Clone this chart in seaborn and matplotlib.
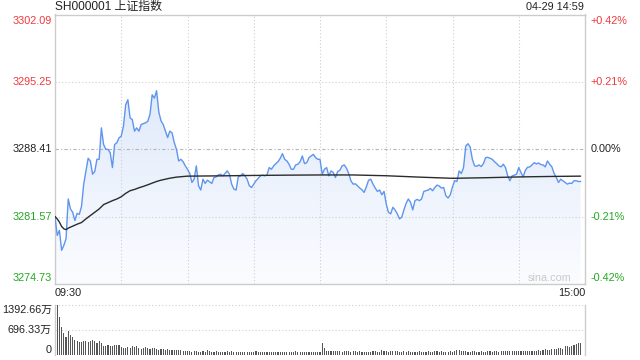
import numpy as np
import matplotlib
matplotlib.use("Agg")
import matplotlib.pyplot as plt
import seaborn as sns
from matplotlib.colors import LinearSegmentedColormap

title = "SH000001 上证指数"
stamp = "04-29 14:59"
prev_close = 3288.41
y_ticks = [3274.73, 3281.57, 3288.41, 3295.25, 3302.09]
pct_labels = ["-0.42%", "-0.21%", "0.00%", "+0.21%", "+0.42%"]
vol_ticks = [0, 696.33, 1392.66]
vol_labels = ["0", "696.33万", "1392.66万"]
x_labels = ["09:30", "15:00"]

price = [
    3281.58, 3279.66, 3280.17, 3278.15, 3278.65, 3279.33, 3283.36, 3282.35, 3282.01, 3281.17,
    3281.90, 3281.80, 3282.60, 3284.87, 3286.21, 3287.49, 3287.22, 3285.88, 3286.15, 3287.39,
    3287.39, 3290.58, 3288.90, 3288.40, 3288.40, 3288.06, 3286.55, 3288.90, 3289.07, 3289.57,
    3289.74, 3290.75, 3292.93, 3293.44, 3291.59, 3291.42, 3290.25, 3290.58, 3290.25, 3290.92,
    3291.00, 3291.09, 3291.25, 3291.93, 3293.94, 3293.60, 3294.35, 3292.20, 3291.30, 3290.92,
    3290.25, 3289.60, 3290.25, 3290.08, 3289.10, 3288.40, 3287.22, 3287.39, 3287.15, 3286.72,
    3286.38, 3285.95, 3285.04, 3285.37, 3286.72, 3284.70, 3284.27, 3285.37, 3284.94, 3285.27,
    3285.10, 3284.94, 3285.54, 3285.61, 3285.81, 3285.88, 3285.71, 3285.95, 3286.22, 3285.88,
    3284.87, 3284.37, 3284.27, 3285.61, 3285.71, 3285.95, 3285.71, 3285.37, 3284.70, 3284.53,
    3284.87, 3285.21, 3285.44, 3285.71, 3285.78, 3285.71, 3285.81, 3286.55, 3286.38, 3286.72,
    3286.95, 3287.15, 3287.49, 3287.96, 3287.39, 3287.22, 3286.89, 3286.38, 3286.38, 3286.82,
    3286.89, 3287.15, 3287.73, 3286.95, 3287.05, 3287.56, 3287.73, 3287.89, 3287.56, 3287.39,
    3287.39, 3285.88, 3286.38, 3286.55, 3285.71, 3286.21, 3286.05, 3285.54, 3286.15, 3286.28,
    3286.72, 3286.82, 3286.48, 3285.95, 3285.21, 3284.87, 3284.90, 3284.70, 3284.47, 3284.30,
    3284.03, 3284.60, 3285.27, 3285.37, 3284.87, 3284.47, 3284.13, 3284.27, 3283.79, 3284.13,
    3282.85, 3282.01, 3281.85, 3282.52, 3282.25, 3281.85, 3281.34, 3281.51, 3282.25, 3282.92,
    3283.36, 3283.02, 3282.25, 3283.19, 3283.32, 3283.19, 3283.36, 3284.13, 3284.20, 3284.27,
    3284.43, 3284.20, 3284.53, 3284.77, 3284.67, 3284.47, 3284.53, 3283.69, 3283.46, 3283.79,
    3284.60, 3285.21, 3285.14, 3286.21, 3285.95, 3286.55, 3288.73, 3288.97, 3288.63, 3287.39,
    3286.72, 3286.68, 3286.82, 3286.65, 3286.95, 3287.56, 3287.59, 3287.49, 3287.39, 3287.15,
    3286.95, 3286.72, 3286.62, 3286.89, 3286.55, 3285.71, 3285.21, 3285.71, 3285.78, 3285.88,
    3286.55, 3286.05, 3285.61, 3286.28, 3286.58, 3286.62, 3286.82, 3287.05, 3286.92, 3287.02,
    3286.85, 3286.82, 3286.62, 3287.22, 3286.89, 3286.62, 3285.95, 3285.54, 3285.04, 3285.37,
    3285.21, 3285.04, 3284.87, 3284.97, 3284.94, 3285.21, 3285.21, 3285.14, 3285.14,
]

avg_minute = [0, 1, 2, 3, 4, 5, 6, 8, 10, 12, 14, 16, 18, 20, 22, 24, 26, 28, 30, 32, 34, 36,
              38, 40, 42, 44, 46, 48, 50, 52, 55, 58, 60, 75, 90, 105, 120, 135, 150, 165,
              180, 195, 210, 225, 238]
avg_price = [3281.58, 3281.34, 3281.01, 3280.57, 3280.33, 3280.25, 3280.40, 3280.60, 3280.80,
             3280.97, 3281.34, 3281.68, 3282.01, 3282.35, 3282.79, 3282.99, 3283.19, 3283.36,
             3283.59, 3283.93, 3284.20, 3284.33, 3284.50, 3284.64, 3284.80, 3284.97, 3285.14,
             3285.27, 3285.37, 3285.47, 3285.58, 3285.64, 3285.68, 3285.71, 3285.75, 3285.78,
             3285.80, 3285.80, 3285.72, 3285.58, 3285.46, 3285.52, 3285.60, 3285.65, 3285.68]

volume = [
    568, 1392, 1060, 776, 615, 492, 682, 549, 511, 426,
    398, 360, 350, 379, 398, 350, 379, 407, 379, 331,
    398, 331, 237, 237, 265, 237, 237, 284, 284, 265,
    227, 208, 199, 227, 208, 246, 218, 237, 189, 180,
    189, 218, 208, 170, 189, 189, 161, 152, 161, 161,
    152, 170, 152, 142, 133, 152, 152, 142, 123, 104,
    104, 110, 95, 100, 125, 90, 95, 105, 85, 130,
    100, 95, 90, 110, 85, 80, 95, 90, 100, 85,
    120, 95, 90, 80, 85, 90, 75, 80, 95, 85,
    80, 110, 90, 85, 80, 95, 90, 85, 75, 80,
    95, 90, 85, 80, 75, 90, 85, 80, 95, 100,
    85, 80, 75, 85, 90, 80, 85, 95, 80, 75,
    85, 331, 190, 120, 110, 105, 110, 100, 105, 110,
    95, 100, 110, 105, 95, 120, 100, 95, 110, 90,
    85, 90, 95, 90, 100, 110, 95, 90, 130, 100,
    120, 95, 125, 110, 100, 105, 90, 95, 105, 95,
    100, 90, 95, 85, 95, 100, 90, 95, 85, 100,
    95, 90, 100, 105, 95, 110, 90, 85, 95, 100,
    95, 120, 150, 130, 110, 100, 105, 95, 90, 100,
    110, 95, 90, 100, 95, 90, 105, 100, 95, 110,
    105, 95, 100, 120, 110, 115, 100, 120, 110, 125,
    115, 105, 120, 115, 110, 125, 120, 115, 125, 130,
    120, 150, 155, 150, 145, 175, 180, 170, 185, 190,
    180, 245, 250, 230, 260, 280, 300, 340, 331,
]

minute = np.arange(len(price))
vol_minute = np.arange(len(volume))

sns.set_theme(style="white")
plt.rcParams['font.family'] = ['Liberation Sans', 'Noto Sans CJK SC', 'DejaVu Sans']

RED = '#f0393c'
GREEN = '#22a822'
GRID = '#cfcfcf'
W, H = 640, 360

fig = plt.figure(figsize=(6.4, 3.6), dpi=100)
fig.patch.set_facecolor('white')
ax = fig.add_axes([55 / W, 1 - 284 / H, 530 / W, (284 - 14.5) / H])
axv = fig.add_axes([55 / W, 1 - 355 / H, 530 / W, 50 / H])

ymin, ymax = y_ticks[0], y_ticks[-1]
# gradient fill under the price line
poly = ax.fill_between(minute, price, ymin, color='none', lw=0)
grad = np.linspace(0, 1, 256).reshape(-1, 1)
cmap = LinearSegmentedColormap.from_list('g', ['#fbfcff', '#d5e3f9'])
im = ax.imshow(grad, extent=[0, 240, ymin, ymax], origin='lower', aspect='auto',
               cmap=cmap, zorder=1, interpolation='bilinear')
im.set_clip_path(poly.get_paths()[0], transform=ax.transData)

# grid
for yv in y_ticks[1:-1]:
    if yv == prev_close:
        ax.axhline(yv, color='#b5b5b5', lw=0.8, ls=(0, (3, 2, 1, 2)), zorder=2)
    else:
        ax.axhline(yv, color=GRID, lw=0.8, ls=(0, (1, 2)), zorder=2)
for xv in range(30, 240, 30):
    ax.axvline(xv, color=GRID, lw=0.8, ls=(0, (1, 2)), zorder=2)

sns.lineplot(x=minute, y=price, ax=ax, color='#5f95ef', lw=1.0, zorder=4)
sns.lineplot(x=avg_minute, y=avg_price, ax=ax, color='#2b2b2b', lw=1.0, zorder=5)

ax.set_xlim(0, 240)
ax.set_ylim(ymin, ymax)
ax.set_xticks([])
ax.set_yticks([])
ax.set_xlabel('')
ax.set_ylabel('')
for s in ax.spines.values():
    s.set_color('#cccccc')
    s.set_linewidth(1)

tr = ax.get_yaxis_transform()
for i, (yv, pl) in enumerate(zip(y_ticks, pct_labels)):
    col = RED if yv > prev_close else (GREEN if yv < prev_close else '#222222')
    va = 'bottom' if i == 0 else ('top' if i == len(y_ticks) - 1 else 'center')
    off = 0.004 if i == 0 else (-0.004 if i == len(y_ticks) - 1 else 0)
    ax.text(-0.006, yv + off * (ymax - ymin), f"{yv:.2f}", transform=tr, ha='right', va=va,
            color=col, fontsize=7.8)
    ax.text(1.011, yv + off * (ymax - ymin), pl, transform=tr, ha='left', va=va,
            color=col, fontsize=7.8)

ax.text(0.975, 0.022, 'sina.com', transform=ax.transAxes, ha='right', va='center',
        color='#c9c9c9', fontsize=7.8, zorder=6)

fig.text(55 / W, 1 - 7 / H, title, ha='left', va='center', fontsize=8.6, color='#222222')
fig.text(584 / W, 1 - 7 / H, stamp, ha='right', va='center', fontsize=7.8, color='#222222')
fig.text(55 / W, 1 - 293 / H, x_labels[0], ha='left', va='center', fontsize=7.8, color='#222222')
fig.text(585 / W, 1 - 293 / H, x_labels[1], ha='right', va='center', fontsize=7.8, color='#222222')

# volume panel
sns.barplot(x=vol_minute, y=volume, ax=axv, native_scale=True, color='#555555',
            width=0.5, saturation=1, linewidth=0)
axv.set_xlim(0, 240)
axv.set_ylim(0, vol_ticks[-1])
axv.set_xticks([])
axv.set_yticks([])
axv.set_xlabel('')
axv.set_ylabel('')
for yv in vol_ticks[1:]:
    axv.axhline(yv, color=GRID, lw=0.8, ls=(0, (1, 2)), zorder=0, clip_on=False)
axv.spines['top'].set_visible(False)
axv.spines['bottom'].set_visible(False)
for k in ('left', 'right'):
    axv.spines[k].set_color('#cccccc')
    axv.spines[k].set_linewidth(1)
trv = axv.get_yaxis_transform()
for i, (yv, lab) in enumerate(zip(vol_ticks, vol_labels)):
    va = 'bottom' if i == 0 else ('top' if i == len(vol_ticks) - 1 else 'center')
    axv.text(-0.006, yv, lab, transform=trv, ha='right', va=va, color='#222222', fontsize=7.8)

fig.savefig('out.png', dpi=100, facecolor='white')
